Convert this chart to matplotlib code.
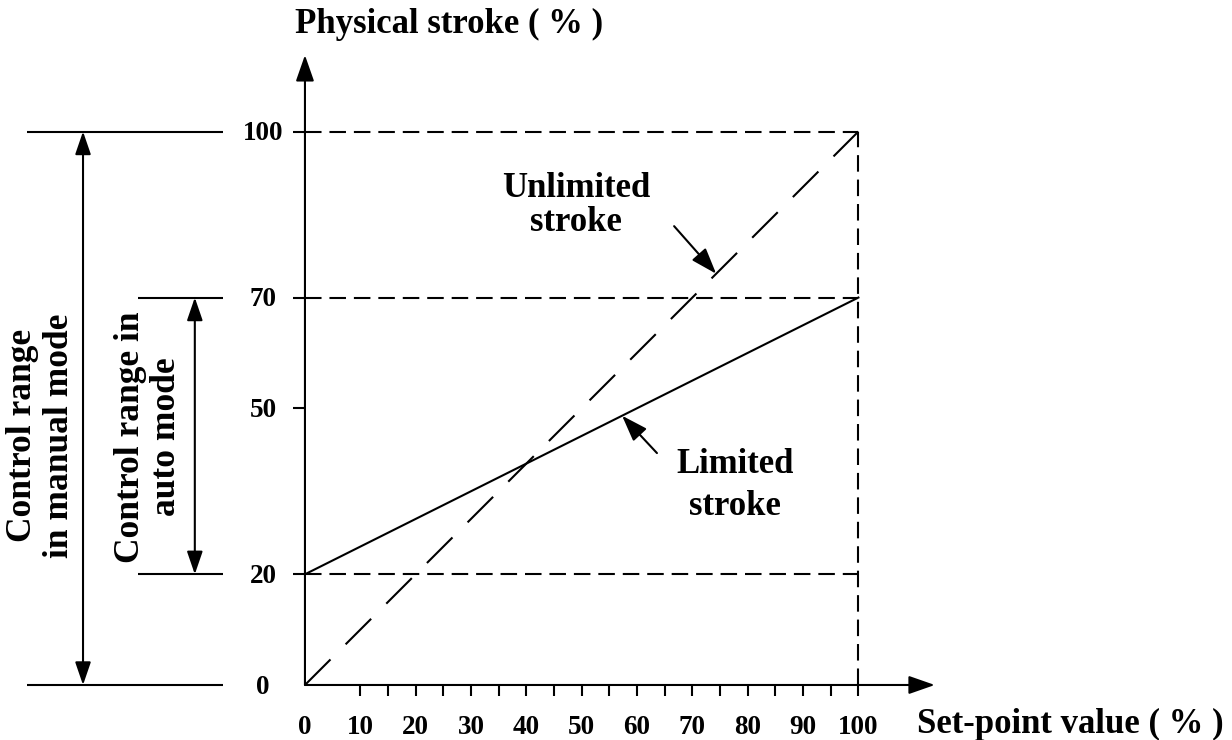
import matplotlib
matplotlib.use("Agg")
import matplotlib.pyplot as plt

plt.rcParams["font.family"] = ["Liberation Serif", "DejaVu Serif"]
plt.rcParams["font.weight"] = "bold"
plt.rcParams["lines.scale_dashes"] = False

# characteristic: set-point value -> physical stroke
setpoint = [0, 100]
unlimited = [0, 100]
limited = [20, 70]

xtick_labels = [0, 10, 20, 30, 40, 50, 60, 70, 80, 90, 100]
xtick_marks = [10, 15, 20, 25, 30, 35, 40, 45, 50, 55, 60, 65, 70, 75, 80, 85, 90, 95, 100]
ytick_labels = [0, 20, 50, 70, 100]
ytick_marks = [20, 50, 70, 100]

range_manual = [0, 100]
range_auto = [20, 70]

LW = 1.5
short_dash = (11.9, 5.7)
long_dash = (26, 15.4)
arrow_head = "-|>,head_length=0.8,head_width=0.28"
double_head = "<|-|>,head_length=0.7,head_width=0.24"

fig = plt.figure(figsize=(12.32, 7.4), dpi=100)
ax = fig.add_axes([0, 0, 1, 1])
ax.set_xlim(-55.1, 167.5)
ax.set_ylim(-9.94, 123.76)
ax.axis("off")

# guide lines
for y in [range_auto[0], range_auto[1], range_manual[1]]:
    ax.plot([0, 100], [y, y], color="k", lw=LW, dashes=short_dash)
ax.plot([100, 100], [0, 100], color="k", lw=LW, dashes=short_dash)

# the two strokes
ax.plot(setpoint, unlimited, color="k", lw=LW, dashes=long_dash)
ax.plot(setpoint, limited, color="k", lw=LW)

# axes with arrow heads
ax.annotate("", xy=(0, 113.8), xytext=(0, 0),
            arrowprops=dict(arrowstyle=arrow_head, color="k", lw=LW,
                            mutation_scale=20, shrinkA=0, shrinkB=0))
ax.annotate("", xy=(113.8, 0), xytext=(0, 0),
            arrowprops=dict(arrowstyle=arrow_head, color="k", lw=LW,
                            mutation_scale=20, shrinkA=0, shrinkB=0))

# ticks
ax.vlines(xtick_marks, -2.0, 0, color="k", lw=LW)
ax.hlines(ytick_marks, -2.2, 0, color="k", lw=LW)
for v in xtick_labels:
    ax.text(v, -8.85, str(v), ha="center", va="baseline", fontsize=19.5)
for v in ytick_labels:
    ax.text(-7.6, v - 1.6, str(v), ha="center", va="baseline", fontsize=19.5)

ax.text(-1.8, 117.8, "Physical stroke ( % )", ha="left", va="baseline", fontsize=25)
ax.text(110.6, -8.67, "Set-point value ( % )", ha="left", va="baseline", fontsize=25)

# control ranges on the left
ax.hlines(range_manual, -50.2, -14.8, color="k", lw=LW)
ax.hlines(range_auto, -30.2, -14.8, color="k", lw=LW)
ax.annotate("", xy=(-40.1, range_manual[1]), xytext=(-40.1, range_manual[0]),
            arrowprops=dict(arrowstyle=double_head, color="k", lw=LW,
                            mutation_scale=20, shrinkA=0, shrinkB=0))
ax.annotate("", xy=(-19.9, range_auto[1]), xytext=(-19.9, range_auto[0]),
            arrowprops=dict(arrowstyle=double_head, color="k", lw=LW,
                            mutation_scale=20, shrinkA=0, shrinkB=0))
ax.text(-47.7, 45.0, "Control range\nin manual mode", rotation=90,
        ha="center", va="center", multialignment="center",
        fontsize=25.5, linespacing=1.15)
ax.text(-28.2, 44.8, "Control range in\nauto mode", rotation=90,
        ha="center", va="center", multialignment="center",
        fontsize=25.5, linespacing=1.12)

# labels for the two strokes
ax.text(49.0, 86.6, "Unlimited\nstroke", ha="center", va="center",
        fontsize=25, linespacing=1.05)
ax.annotate("", xy=(74.3, 74.3), xytext=(66.7, 82.9),
            arrowprops=dict(arrowstyle=arrow_head, color="k", lw=LW,
                            mutation_scale=20, shrinkA=0, shrinkB=0))
ax.text(77.7, 36.0, "Limited\nstroke", ha="center", va="center",
        fontsize=25, linespacing=1.38)
ax.annotate("", xy=(57.3, 48.65), xytext=(63.6, 41.9),
            arrowprops=dict(arrowstyle=arrow_head, color="k", lw=LW,
                            mutation_scale=20, shrinkA=0, shrinkB=0))

fig.savefig("out.png", dpi=100)
